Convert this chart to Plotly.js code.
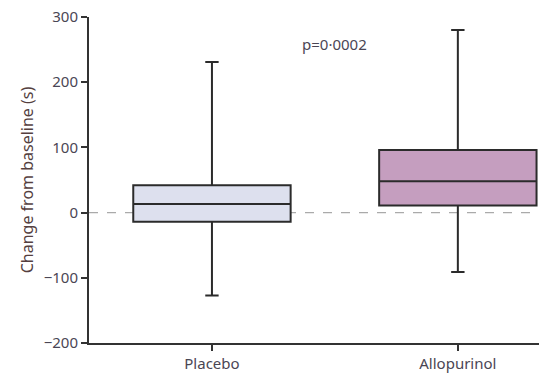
<!DOCTYPE html>
<html>
<head>
<meta charset="utf-8">
<script src="https://cdn.plot.ly/plotly-3.0.1.min.js"></script>
<style>html,body{margin:0;padding:0;background:#fff;}#chart{width:539px;height:377px;}</style>
</head>
<body>
<div id="chart"></div>
<script>
const categories = ["Placebo", "Allopurinol"];
const lowerWhisker = [-127, -91];
const q1Values = [-14, 11];
const medianValues = [13, 48];
const q3Values = [42, 96];
const upperWhisker = [231, 280];
const boxColors = ["#dde0ee", "#c59ebf"];
const yTicks = [-200, -100, 0, 100, 200, 300];
const annotationText = "p=0·0002";

const traces = categories.map((c, i) => ({
  type: "box",
  x: [c],
  q1: [q1Values[i]],
  median: [medianValues[i]],
  q3: [q3Values[i]],
  lowerfence: [lowerWhisker[i]],
  upperfence: [upperWhisker[i]],
  fillcolor: boxColors[i],
  line: {color: "#2b2b2b", width: 2},
  width: 0.64,
  whiskerwidth: 0.085,
  boxpoints: false,
  showlegend: false,
  hoverinfo: "skip"
}));

const font = {family: "Noto Sans, Open Sans, sans-serif", size: 15, color: "#4a4654"};

const layout = {
  width: 539, height: 377,
  margin: {l: 89, r: 0, t: 17, b: 34},
  paper_bgcolor: "#fff", plot_bgcolor: "#fff",
  font: font,
  showlegend: false,
  xaxis: {
    type: "category",
    categoryarray: categories,
    range: [-0.5, 1.33],
    showline: true, linecolor: "#333", linewidth: 2,
    ticks: "outside", ticklen: 6, tickwidth: 2, tickcolor: "#333",
    showgrid: false, zeroline: false,
    tickfont: font
  },
  yaxis: {
    range: [-200, 300],
    tickvals: yTicks,
    ticktext: yTicks.map(v => v < 0 ? "\u2212" + Math.abs(v) : String(v)),
    showline: true, linecolor: "#333", linewidth: 2,
    ticks: "outside", ticklen: 6, tickwidth: 2, tickcolor: "#333",
    showgrid: false, zeroline: false,
    tickfont: font,
    title: {text: "Change from baseline (s)", font: {family: font.family, size: 16, color: "#553f3f"}, standoff: 6}
  },
  shapes: [{
    type: "line", xref: "paper", x0: 0, x1: 1, yref: "y", y0: 0, y1: 0,
    line: {color: "#aaaaaa", width: 1.2, dash: "dash"},
    layer: "below"
  }],
  annotations: [{
    text: annotationText, x: 0.5, xref: "x", y: 258, yref: "y",
    showarrow: false, font: {family: font.family, size: 15, color: "#4a4654"}
  }]
};

Plotly.newPlot("chart", traces, layout, {displayModeBar: false, staticPlot: true});
</script>
</body>
</html>
